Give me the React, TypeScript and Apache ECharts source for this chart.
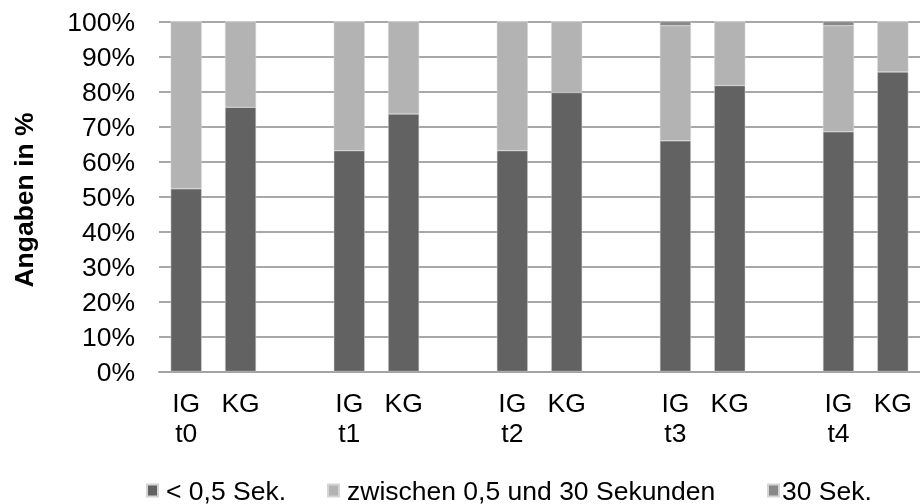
import React, { useEffect, useRef } from "react";
import * as echarts from "echarts";

const categories = ["IG\nt0", "KG", "", "IG\nt1", "KG", "", "IG\nt2", "KG", "", "IG\nt3", "KG", "", "IG\nt4", "KG"];
const seriesNames = ["< 0,5 Sek.", "zwischen 0,5 und 30 Sekunden", "30 Sek."];
// values per real bar (IG t0, KG t0, IG t1, KG t1, ...)
const under05 = [52.2, 75.5, 63.1, 73.6, 63.1, 79.7, 65.9, 81.7, 68.5, 85.6];
const between = [47.8, 24.5, 36.9, 26.4, 36.9, 20.3, 32.9, 18.3, 30.3, 14.4];
const sec30 = [0, 0, 0, 0, 0, 0, 1.2, 0, 1.2, 0];
const yTicks = { min: 0, max: 100, interval: 10 };

const colors = ["#626262", "#b3b3b3", "#888888"];
const FONT = "'Liberation Sans', Arial, sans-serif";
const FS = 26.5;

function spread(vals: number[]): (number | string)[] {
  const out: (number | string)[] = [];
  let k = 0;
  categories.forEach((c) => {
    if (c === "") out.push("-");
    else out.push(vals[k++]);
  });
  return out;
}

export default function App() {
  const ref = useRef<HTMLDivElement>(null);
  useEffect(() => {
    if (!ref.current) return;
    const chart = echarts.init(ref.current, undefined, { renderer: "svg" });
    const legendLefts = [146, 327, 767];
    const legendTextPad = [3, 3, -2];
    const allVals = [under05, between, sec30];
    chart.setOption({
      animation: false,
      textStyle: { fontFamily: FONT },
      grid: { left: 159, right: -7, top: 21.5, bottom: 132.5, containLabel: false },
      xAxis: {
        type: "category",
        data: categories,
        axisTick: { show: false },
        axisLine: { lineStyle: { color: "#a3a3a3", width: 2 } },
        axisLabel: {
          interval: 0,
          fontSize: FS,
          lineHeight: 30,
          color: "#000",
          margin: 16,
          fontFamily: FONT,
        },
      },
      yAxis: {
        type: "value",
        min: yTicks.min,
        max: yTicks.max,
        interval: yTicks.interval,
        axisLine: { show: false },
        axisTick: { show: false },
        splitLine: { lineStyle: { color: "#a8a8a8", width: 2 } },
        axisLabel: {
          formatter: "{value}%",
          fontSize: FS,
          color: "#000",
          margin: 24,
          fontFamily: FONT,
        },
      },
      legend: seriesNames.map((n, i) => ({
        data: [n],
        left: legendLefts[i],
        top: 477,
        padding: 0,
        itemWidth: 11,
        itemHeight: 12,
        icon: "rect",
        textStyle: {
          fontSize: FS,
          lineHeight: 26,
          color: "#000",
          fontFamily: FONT,
          padding: [0, 0, 0, legendTextPad[i]],
        },
      })),
      graphic: [
        {
          type: "text",
          x: 24,
          y: 200,
          rotation: Math.PI / 2,
          style: {
            text: "Angaben in %",
            font: `bold ${FS}px ${FONT}`,
            fill: "#000",
            textAlign: "center",
            textVerticalAlign: "middle",
          },
        },
      ],
      series: seriesNames.map((n, i) => ({
        name: n,
        type: "bar",
        stack: "total",
        barWidth: 31,
        data: spread(allVals[i]),
        itemStyle: { color: colors[i], borderColor: "#d4d4d4", borderWidth: 0.5 },
      })),
    });
    return () => chart.dispose();
  }, []);
  return <div ref={ref} style={{ position: "fixed", left: 0, top: 0, width: 920, height: 504 }} />;
}
